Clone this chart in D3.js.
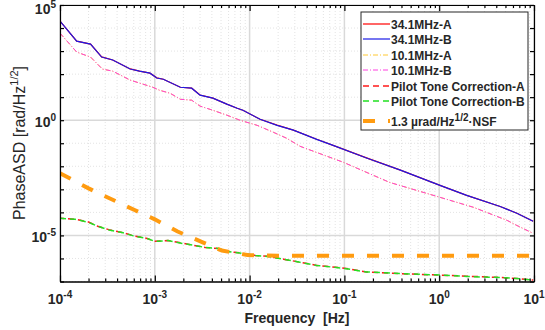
<!DOCTYPE html>
<meta charset="utf-8">
<head>
<style>
body { margin: 0; background: #fff; }
text { font-family: "Liberation Sans", Arial, sans-serif; font-weight: bold; fill: #262626; }
.grid-major { stroke: #d9d9d9; stroke-width: 1.5; }
.grid-minor { stroke: #e3e3e3; stroke-width: 1; stroke-dasharray: 1,2; }
.axis path, .axis line { stroke: #000; stroke-width: 1.2; }
</style>
</head>
<body>
<script src="https://d3js.org/d3.v7.min.js"></script>
<script>
// 34.1 MHz beat notes (A under B)
var freq34 = [1e-4, 1.5e-4, 2.1e-4, 2.75e-4, 3.6e-4, 5.5e-4, 6.9e-4, 8.9e-4, 1.05e-3, 1.23e-3, 1.86e-3, 2.45e-3, 3.0e-3, 4.1e-3, 5.75e-3, 7.4e-3, 8.5e-3, 1.29e-2, 1.95e-2, 2.9e-2, 5.1e-2, 7.6e-2, 0.174, 0.39, 1.02, 1.95, 4.4, 6.6, 9.8];
var asd34B = [2.0e4, 2.7e3, 2.0e3, 550, 410, 166, 135, 110, 68, 60, 27, 24.5, 12.3, 9.1, 5.0, 3.3, 2.7, 1.1, 0.60, 0.37, 0.148, 0.081, 0.0224, 6.8e-3, 1.48e-3, 5.5e-4, 1.8e-4, 9.1e-5, 4.1e-5];
var asd34A = [2.0e4, 2.7e3, 2.0e3, 560, 410, 168, 135, 110, 69, 60, 27, 24.5, 12.4, 9.1, 5.0, 3.3, 2.7, 1.1, 0.61, 0.37, 0.149, 0.081, 0.0225, 6.8e-3, 1.49e-3, 5.5e-4, 1.8e-4, 9.2e-5, 4.1e-5];
// 10.1 MHz beat notes (A under B)
var freq10 = [1e-4, 1.5e-4, 2.1e-4, 2.8e-4, 3.6e-4, 5.5e-4, 6.9e-4, 9.5e-4, 1.12e-3, 1.45e-3, 1.86e-3, 2.45e-3, 3.0e-3, 4.1e-3, 5.75e-3, 7.9e-3, 1.2e-2, 1.78e-2, 2.45e-2, 3.4e-2, 9.8e-2, 0.30, 1.02, 2.3, 5.2, 6.6, 9.8];
var asd10B = [6.0e3, 910, 550, 166, 135, 55, 41, 27, 20, 14.8, 8.1, 7.4, 4.1, 2.7, 1.66, 1.0, 0.60, 0.30, 0.166, 0.074, 0.0148, 2.0e-3, 4.5e-4, 1.66e-4, 4.5e-5, 2.7e-5, 1.23e-5];
var asd10A = [6.0e3, 900, 550, 166, 134, 55, 41, 27, 20, 14.8, 8.1, 7.4, 4.1, 2.7, 1.66, 1.0, 0.60, 0.30, 0.166, 0.074, 0.0148, 2.0e-3, 4.5e-4, 1.66e-4, 4.5e-5, 2.7e-5, 1.23e-5];
// pilot tone corrected residuals
var freqPT = [1e-4, 1.45e-4, 2.0e-4, 2.5e-4, 3.4e-4, 4.5e-4, 6.2e-4, 8.3e-4, 1.0e-3, 1.38e-3, 1.95e-3, 2.6e-3, 3.4e-3, 4.7e-3, 5.9e-3, 8.3e-3, 1.15e-2, 1.55e-2, 2.35e-2, 3.4e-2, 5.1e-2, 0.1, 0.17, 0.39, 1.02, 1.95, 4.4, 6.6, 9.8];
var asdPTB = [5.5e-5, 5.0e-5, 3.7e-5, 2.5e-5, 1.66e-5, 1.35e-5, 9.1e-6, 7.4e-6, 5.5e-6, 6.0e-6, 4.5e-6, 3.7e-6, 3.0e-6, 2.7e-6, 2.0e-6, 1.66e-6, 1.35e-6, 1.23e-6, 9.1e-7, 6.8e-7, 5.0e-7, 3.7e-7, 2.6e-7, 2.2e-7, 1.9e-7, 1.66e-7, 1.48e-7, 1.35e-7, 1.15e-7];
var asdPTA = [5.6e-5, 5.0e-5, 3.8e-5, 2.5e-5, 1.7e-5, 1.35e-5, 9.3e-6, 7.4e-6, 5.6e-6, 6.0e-6, 4.6e-6, 3.7e-6, 3.0e-6, 2.7e-6, 2.0e-6, 1.7e-6, 1.35e-6, 1.25e-6, 9.1e-7, 6.9e-7, 5.0e-7, 3.8e-7, 2.6e-7, 2.2e-7, 1.9e-7, 1.7e-7, 1.5e-7, 1.35e-7, 1.15e-7];
// requirement 1.3 urad/Hz^1/2 * NSF
var freqNSF = [1e-4, 2.0e-4, 3.5e-4, 6.2e-4, 1.0e-3, 1.74e-3, 3.2e-3, 5.1e-3, 9.5e-3, 2e-2, 0.1, 1, 10];
var asdNSF = [5.0e-3, 1.1e-3, 3.7e-4, 1.23e-4, 5.0e-5, 1.48e-5, 5.0e-6, 2.2e-6, 1.4e-6, 1.3e-6, 1.3e-6, 1.3e-6, 1.3e-6];

var xDecades = [1e-4, 1e-3, 1e-2, 1e-1, 1, 10];
var xDecadeLabels = ["-4", "-3", "-2", "-1", "0", "1"];
var yLabelled = [1e5, 1, 1e-5];
var yLabelExp = ["5", "0", "-5"];

var series = [
  {name: "34.1MHz-A", f: freq34, v: asd34A, color: "#ff0000", width: 1.2, dash: null},
  {name: "34.1MHz-B", f: freq34, v: asd34B, color: "#1a1ae6", width: 1.2, dash: null},
  {name: "10.1MHz-A", f: freq10, v: asd10A, color: "#ffc832", width: 1, dash: "5,2,1,2"},
  {name: "10.1MHz-B", f: freq10, v: asd10B, color: "#ff40e0", width: 1, dash: "5,2,1,2"},
  {name: "Pilot Tone Correction-A", f: freqPT, v: asdPTA, color: "#ff1a1a", width: 1.5, dash: "6,4", off: 2},
  {name: "Pilot Tone Correction-B", f: freqPT, v: asdPTB, color: "#22e022", width: 1.5, dash: "6,4"},
  {name: "NSF", f: freqNSF, v: asdNSF, color: "#ff9b10", width: 4, dash: "12,13"}
];

var margin = {top: 5, left: 60},
    width = 474, height = 276.5;

var svg = d3.select("body").append("svg")
    .attr("width", 545).attr("height", 330);
svg.append("rect").attr("width", 545).attr("height", 330).attr("fill", "#fff");
var g = svg.append("g").attr("transform", "translate(" + margin.left + "," + margin.top + ")");

var x = d3.scaleLog().domain([1e-4, 10]).range([0, width]);
var y = d3.scaleLog().domain([1e-7, 1e5]).range([height, 0]);

var minorX = [];
xDecades.slice(0, -1).forEach(function(d) { for (var k = 2; k < 10; k++) minorX.push(d * k); });
var allYDecades = d3.range(-7, 6).map(function(e) { return Math.pow(10, e); });
var minorY = allYDecades.filter(function(d) { return yLabelled.indexOf(d) < 0; });

// grid
g.selectAll(".gxm").data(minorX).join("line").attr("class", "grid-minor")
  .attr("x1", d => x(d)).attr("x2", d => x(d)).attr("y1", 0).attr("y2", height);
g.selectAll(".gym").data(minorY).join("line").attr("class", "grid-minor")
  .attr("y1", d => y(d)).attr("y2", d => y(d)).attr("x1", 0).attr("x2", width);
g.selectAll(".gxM").data(xDecades).join("line").attr("class", "grid-major")
  .attr("x1", d => x(d)).attr("x2", d => x(d)).attr("y1", 0).attr("y2", height);
g.selectAll(".gyM").data(yLabelled).join("line").attr("class", "grid-major")
  .attr("y1", d => y(d)).attr("y2", d => y(d)).attr("x1", 0).attr("x2", width);

// curves
g.append("clipPath").attr("id", "clip").append("rect").attr("width", width).attr("height", height);
var line = d3.line().x(d => x(d[0])).y(d => y(d[1]));
var curves = g.append("g").attr("clip-path", "url(#clip)");
series.forEach(function(s) {
  curves.append("path")
    .datum(d3.zip(s.f, s.v))
    .attr("d", line)
    .attr("fill", "none")
    .attr("stroke", s.color)
    .attr("stroke-width", s.width)
    .attr("stroke-dasharray", s.dash)
    .attr("stroke-dashoffset", s.off || 0);
});

// axes (ticks only, inward)
function addAxis(axis, tr) {
  var a = g.append("g").attr("class", "axis").attr("transform", tr).call(axis);
  a.selectAll("text").remove();
  return a;
}
addAxis(d3.axisBottom(x).tickValues(minorX).tickSizeInner(-3).tickSizeOuter(0).tickFormat(""), "translate(0," + height + ")");
addAxis(d3.axisBottom(x).tickValues(xDecades).tickSizeInner(-6).tickSizeOuter(0).tickFormat(""), "translate(0," + height + ")");
addAxis(d3.axisTop(x).tickValues(minorX).tickSizeInner(-3).tickSizeOuter(0).tickFormat(""), "translate(0,0)");
addAxis(d3.axisTop(x).tickValues(xDecades).tickSizeInner(-6).tickSizeOuter(0).tickFormat(""), "translate(0,0)");
addAxis(d3.axisLeft(y).tickValues(allYDecades).tickSizeInner(-4).tickSizeOuter(0).tickFormat(""), "translate(0,0)");
addAxis(d3.axisRight(y).tickValues(allYDecades).tickSizeInner(-4).tickSizeOuter(0).tickFormat(""), "translate(" + width + ",0)");

// tick labels with superscripts
xDecades.forEach(function(d, i) {
  var t = g.append("text").attr("x", x(d)).attr("y", height + 22).attr("text-anchor", "middle").style("font-size", "14px");
  t.append("tspan").text("10");
  t.append("tspan").attr("dy", -6).style("font-size", "10px").text(xDecadeLabels[i]);
});
yLabelled.forEach(function(d, i) {
  var t = g.append("text").attr("x", -4).attr("y", Math.max(y(d) + 7, 9)).attr("text-anchor", "end").style("font-size", "14px");
  t.append("tspan").text("10");
  t.append("tspan").attr("dy", -6).style("font-size", "10px").text(yLabelExp[i]);
});

// axis titles
svg.append("text").attr("x", 297).attr("y", 323).attr("text-anchor", "middle")
  .style("font-size", "14px").style("white-space", "pre").text("Frequency  [Hz]");
var yl = svg.append("text").attr("transform", "translate(25,143) rotate(-90)")
  .attr("text-anchor", "middle").style("font-size", "16px").style("font-weight", "normal");
yl.append("tspan").text("PhaseASD [rad/Hz");
yl.append("tspan").attr("dy", -7).style("font-size", "11px").text("1/2");
yl.append("tspan").attr("dy", 7).text("]");

// legend
var leg = svg.append("g").attr("transform", "translate(361,12)");
leg.append("rect").attr("width", 167).attr("height", 118).attr("fill", "#fff").attr("stroke", "#262626").attr("stroke-width", 1);
var rowY = [12, 27, 43, 58, 74, 89, 109];
series.forEach(function(s, i) {
  leg.append("line").attr("x1", 2).attr("x2", 29).attr("y1", rowY[i]).attr("y2", rowY[i])
    .attr("stroke", s.color).attr("stroke-width", s.width).attr("stroke-dasharray", s.dash);
  var t = leg.append("text").attr("x", 30).attr("y", rowY[i] + 4.5).style("font-size", "12px");
  if (s.name === "NSF") {
    t.append("tspan").text("1.3 \u00b5rad/Hz");
    t.append("tspan").attr("dy", -5).style("font-size", "10px").text("1/2");
    t.append("tspan").attr("dy", 5).text("\u00b7NSF");
  } else {
    t.text(s.name);
  }
});
</script>
</body>
